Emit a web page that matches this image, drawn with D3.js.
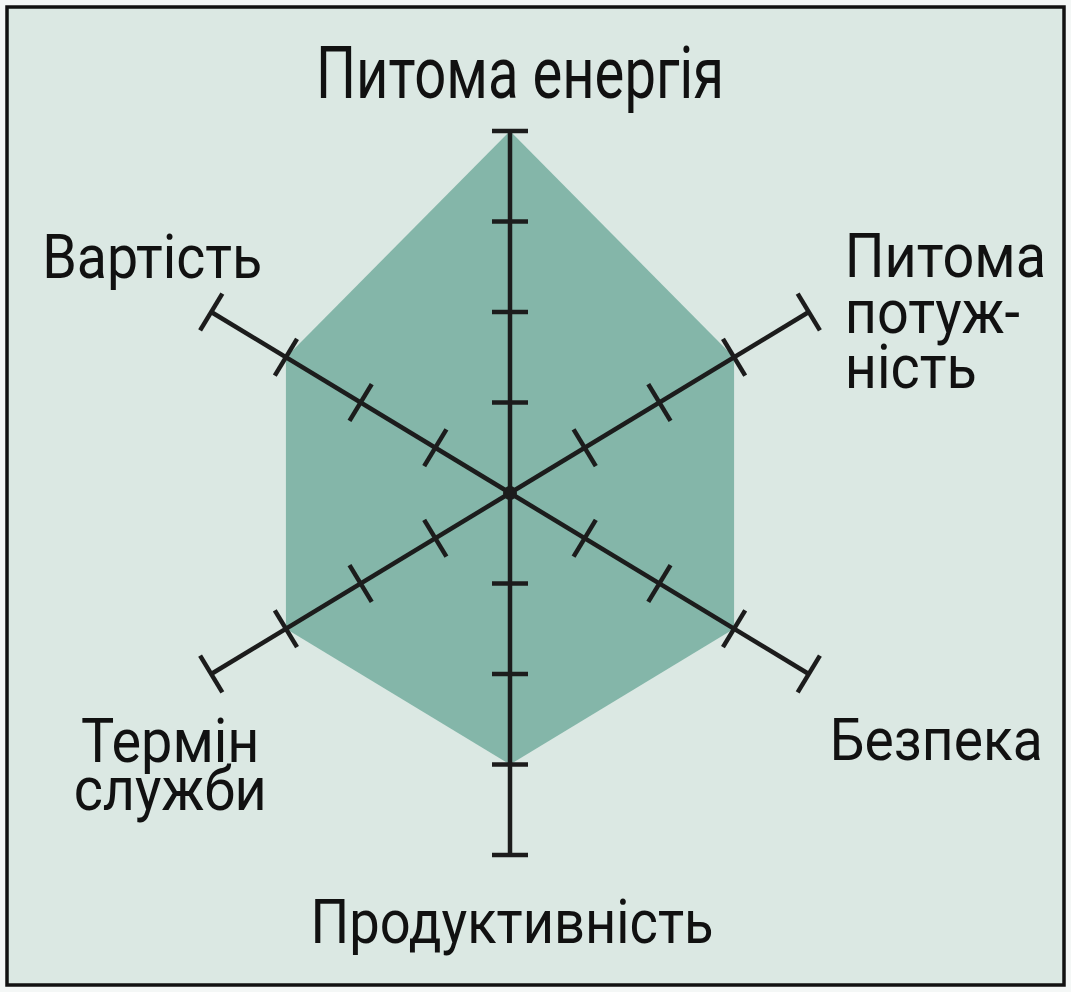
<!DOCTYPE html>
<html>
<head>
<meta charset="utf-8">
<script src="https://cdn.jsdelivr.net/npm/d3@7"></script>
<style>
  html, body { margin: 0; padding: 0; background: #f4f7f6; }
  svg { display: block; }
  .label { font-family: "Roboto", "Liberation Sans", sans-serif; fill: #111; }
</style>
</head>
<body>
<div id="svg-container"></div>
<script>
////////////////////////////////////////////////////////////////////
////////////////////////////  Data  ////////////////////////////////
const axes = ["Питома енергія", "Питома потужність", "Безпека", "Продуктивність", "Термін служби", "Вартість"];
const values = [4, 3, 3, 3, 3, 3];
const tickValues = [1, 2, 3];
const maxValue = 4;
// label lines as printed (hyphenated)
const labelLines = [["Питома енергія"], ["Питома", "потуж-", "ність"], ["Безпека"], ["Продуктивність"], ["Термін", "служби"], ["Вартість"]];

////////////////////////////////////////////////////////////////////
////////////////////////////  Init  ///////////////////////////////
const width = 1071;
const height = 992;
const cx = 510, cy = 493;

const svg = d3.select("#svg-container").append("svg")
  .attr("width", width).attr("height", height);

// frame
svg.append("rect")
  .attr("x", 7).attr("y", 7)
  .attr("width", width - 14).attr("height", height - 14)
  .attr("fill", "#dbe8e3")
  .attr("stroke", "#121212")
  .attr("stroke-width", 3.5);

// radial scales (the drawing is a little narrower than tall)
const rX = d3.scaleLinear().domain([0, maxValue]).range([0, 345]);
const rY = d3.scaleLinear().domain([0, maxValue]).range([0, 362]);
const angle = d3.scalePoint().domain(d3.range(axes.length)).range([0, 2 * Math.PI * (axes.length - 1) / axes.length]);

const pt = (i, v) => {
  const a = angle(i);
  return [cx + rX(v) * Math.sin(a), cy - rY(v) * Math.cos(a)];
};

// polygon
const line = d3.line().curve(d3.curveLinearClosed);
svg.append("path")
  .datum(values.map((v, i) => pt(i, v)))
  .attr("fill", "#84b6a9")
  .attr("stroke", "none")
  .attr("d", line);

// axes
const g = svg.append("g").attr("stroke", "#1c1c1c").attr("stroke-linecap", "butt");

axes.forEach((name, i) => {
  const [x2, y2] = pt(i, maxValue);
  g.append("line")
    .attr("x1", cx).attr("y1", cy).attr("x2", x2).attr("y2", y2)
    .attr("stroke-width", 4.5);

  // perpendicular direction in screen space
  const dx = x2 - cx, dy = y2 - cy;
  const len = Math.hypot(dx, dy);
  const px = -dy / len, py = dx / len;
  const half = 18 + 4 * Math.abs(Math.sin(angle(i)));

  tickValues.concat([maxValue]).forEach((t) => {
    const [tx, ty] = pt(i, t);
    g.append("line")
      .attr("x1", tx - px * half).attr("y1", ty - py * half)
      .attr("x2", tx + px * half).attr("y2", ty + py * half)
      .attr("stroke-width", 4.5);
  });
});

svg.append("circle")
  .attr("cx", cx).attr("cy", cy).attr("r", 7)
  .attr("fill", "#1c1c1c");

////////////////////////////////////////////////////////////////////
////////////////////////////  Labels  //////////////////////////////
// offset from the axis end, anchor, font size, line height, horizontal squeeze
const labelLayout = [
  { dx: 10, dy: -33, anchor: "middle", size: 72, lh: 0, sx: 0.78 },
  { dx: 36, dy: -35, anchor: "start", size: 62, lh: 55.5, sx: 0.9 },
  { dx: 21, dy: 86, anchor: "start", size: 60, lh: 0, sx: 0.92 },
  { dx: 2, dy: 88, anchor: "middle", size: 61, lh: 0, sx: 0.89 },
  { dx: -41, dy: 88, anchor: "middle", size: 62, lh: 48, sx: 0.9 },
  { dx: -169, dy: -34, anchor: "start", size: 61, lh: 0, sx: 0.91 },
];

labelLines.forEach((lines, i) => {
  const [ex, ey] = pt(i, maxValue);
  const lay = labelLayout[i];
  const text = svg.append("text")
    .attr("class", "label")
    .attr("text-anchor", lay.anchor)
    .attr("font-size", lay.size)
    .attr("transform", `translate(${ex + lay.dx},${ey + lay.dy}) scale(${lay.sx},1)`);
  lines.forEach((s, k) => {
    text.append("tspan")
      .attr("x", 0)
      .attr("y", k * lay.lh)
      .text(s);
  });
});
</script>
</body>
</html>
